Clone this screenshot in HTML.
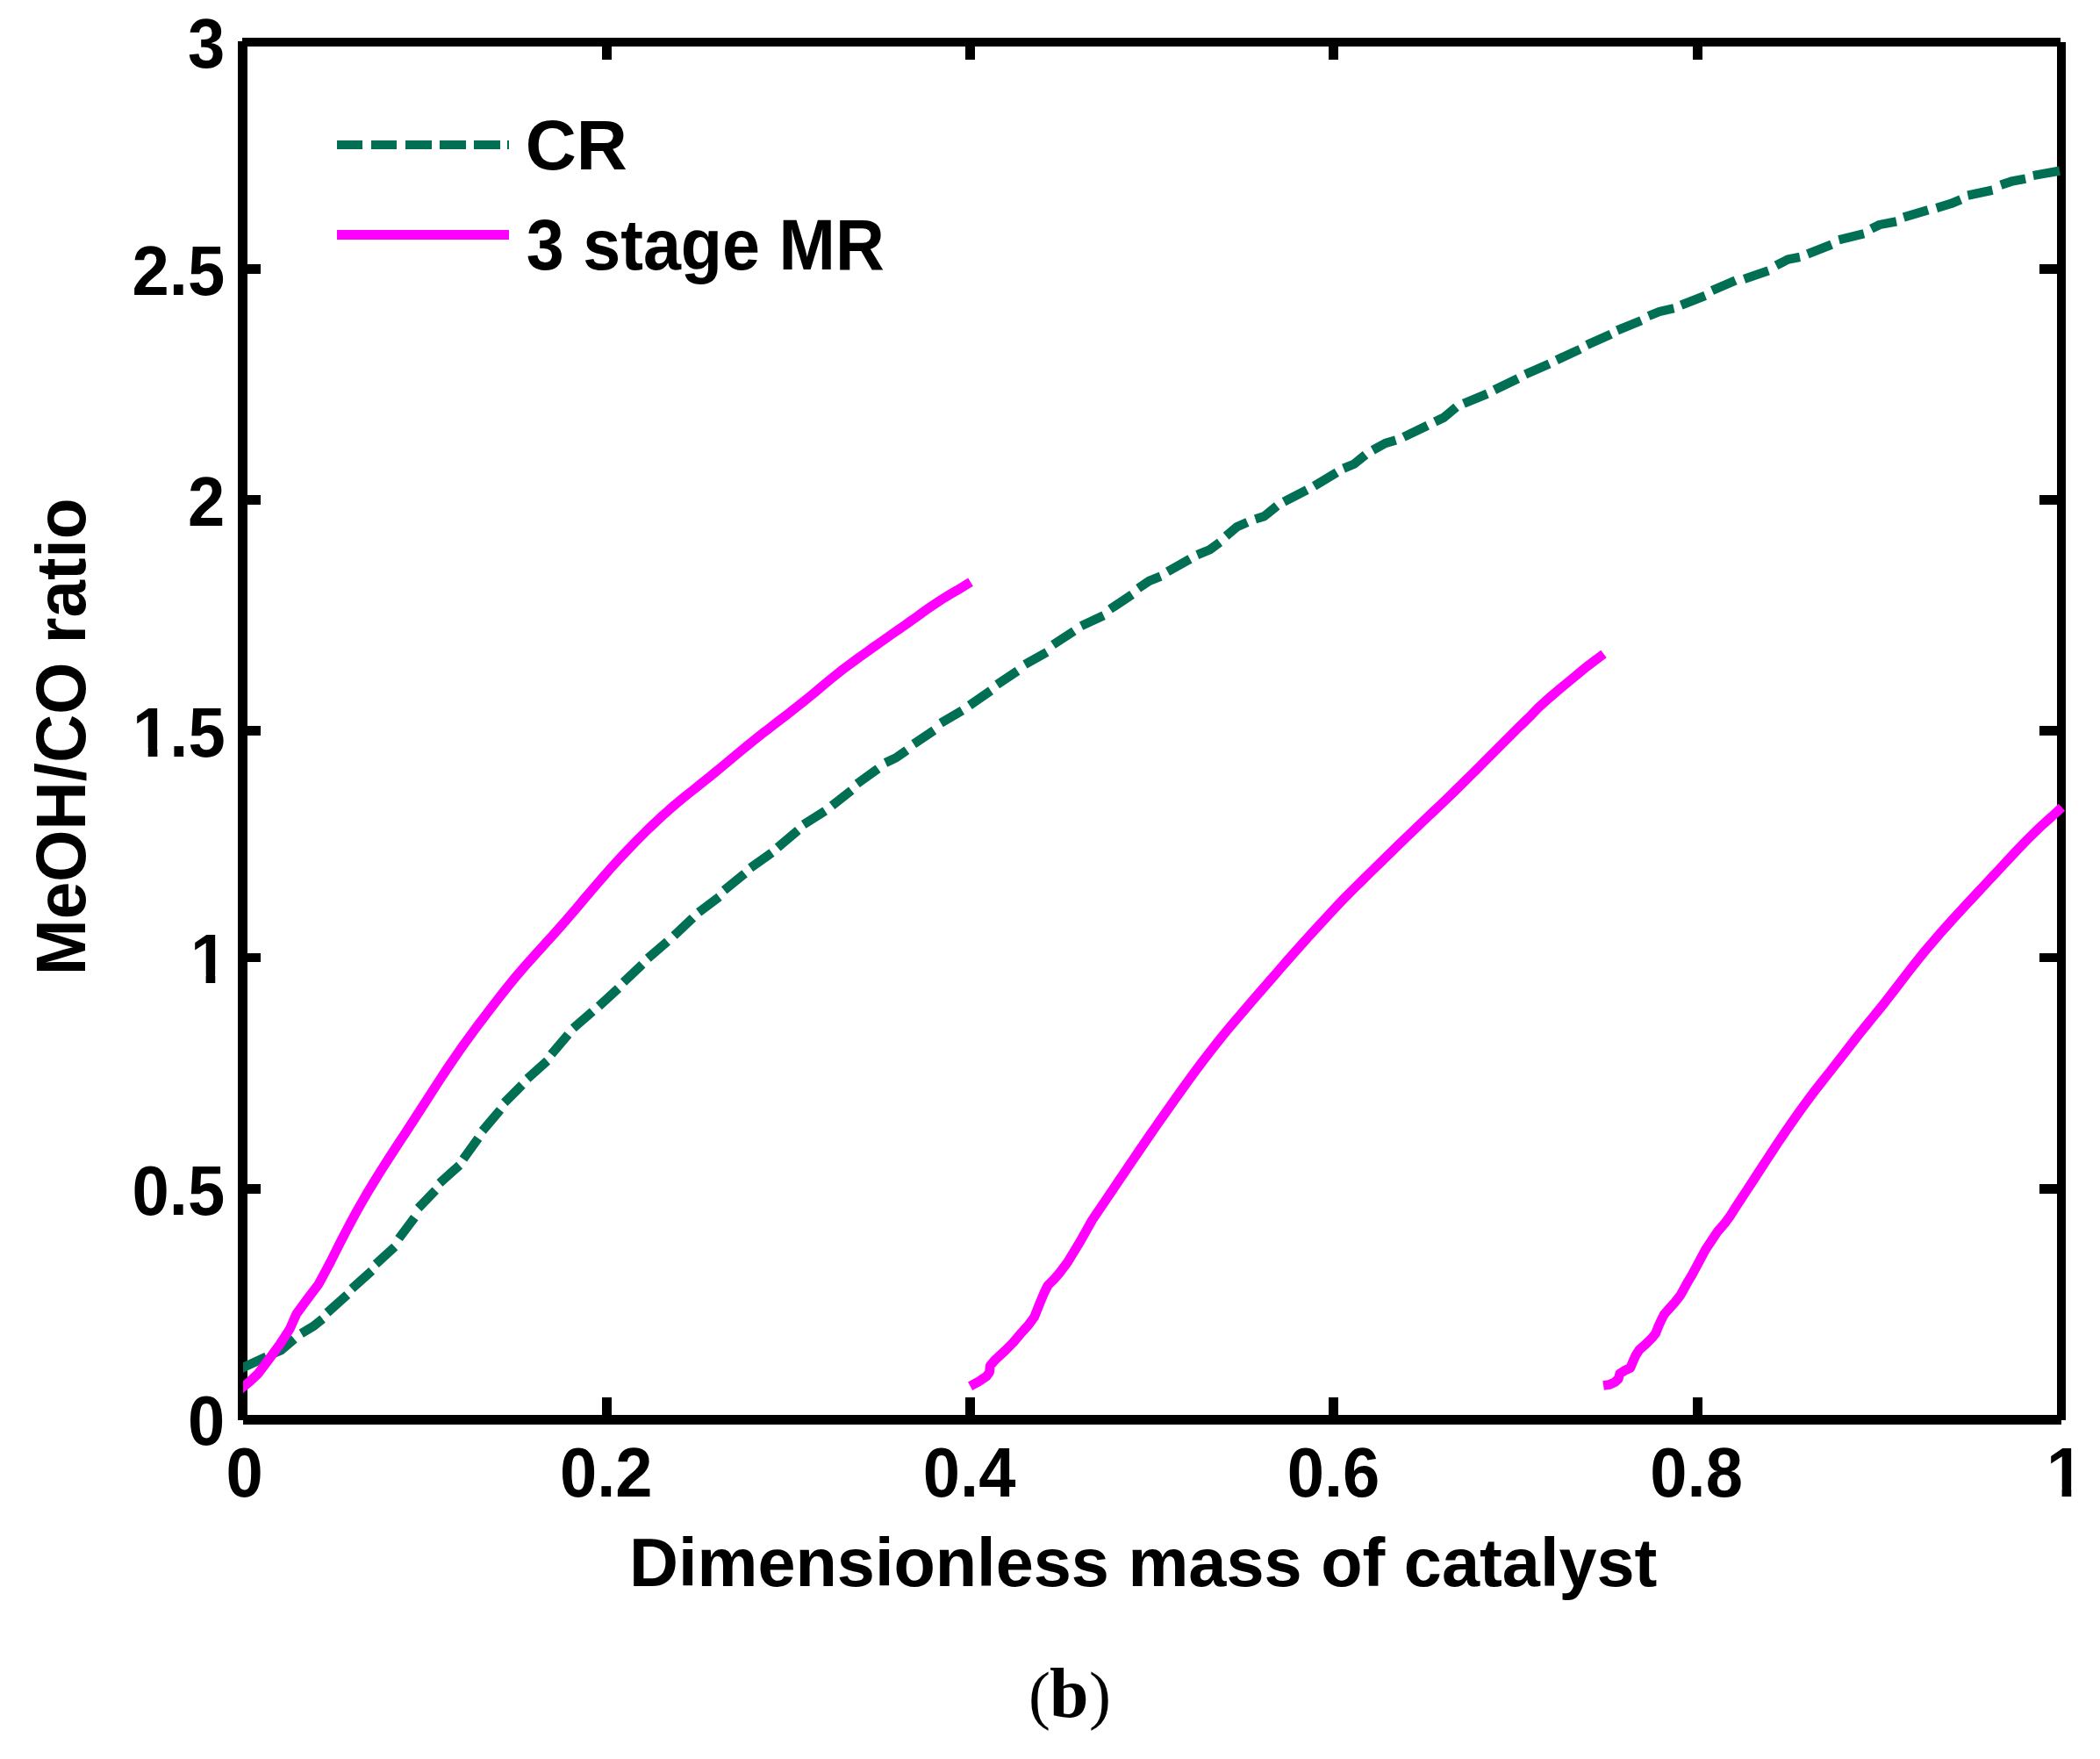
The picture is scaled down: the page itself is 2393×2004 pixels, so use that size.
<!DOCTYPE html>
<html lang="en"><head><meta charset="utf-8"><title>MeOH/CO ratio</title>
<style>html,body{margin:0;padding:0;background:#fff}body{width:2393px;height:2004px;overflow:hidden}svg{display:block}text{fill:#000;white-space:pre}</style></head><body>
<svg width="2393" height="2004" viewBox="0 0 2393 2004">
<rect x="0" y="0" width="2393" height="2004" fill="#fff"/>
<g fill="#000" shape-rendering="crispEdges">
<rect x="271" y="47" width="11" height="1571"/>
<rect x="276" y="43" width="2072" height="10"/>
<rect x="2344" y="48" width="10" height="1570"/>
<rect x="277" y="1612" width="2072" height="11"/>
<rect x="686" y="1592" width="11" height="21"/>
<rect x="686" y="52" width="11" height="16"/>
<rect x="1100" y="1592" width="11" height="21"/>
<rect x="1100" y="52" width="11" height="16"/>
<rect x="1514" y="1592" width="11" height="21"/>
<rect x="1514" y="52" width="11" height="16"/>
<rect x="1929" y="1592" width="11" height="21"/>
<rect x="1929" y="52" width="11" height="16"/>
<rect x="281" y="301" width="16" height="11"/>
<rect x="2324" y="301" width="21" height="11"/>
<rect x="281" y="564" width="16" height="11"/>
<rect x="2324" y="564" width="21" height="11"/>
<rect x="281" y="827" width="16" height="11"/>
<rect x="2324" y="827" width="21" height="11"/>
<rect x="281" y="1086" width="16" height="10"/>
<rect x="2324" y="1086" width="21" height="10"/>
<rect x="281" y="1349" width="16" height="11"/>
<rect x="2324" y="1349" width="21" height="11"/>
</g>
<clipPath id="pc"><rect x="277" y="0" width="2116" height="2004"/></clipPath>
<g fill="none" stroke-linejoin="round" stroke-linecap="butt" clip-path="url(#pc)">
<path stroke="#006F53" stroke-width="10.4" d="M270.0 1561.2 L277.0 1558.0 L290.0 1552.0 L303.5 1545.8 M311.5 1542.0 L320.0 1538.5 L335.4 1525.5 M343.3 1519.3 L356.6 1511.3 L367.6 1502.6 M372.9 1495.5 L395.7 1475.2 M401.0 1468.1 L423.6 1447.9 M428.3 1440.2 L449.8 1420.5 M454.5 1411.0 L472.4 1387.1 M476.7 1376.4 L496.2 1356.2 M501.0 1347.9 L523.6 1327.6 M527.9 1320.5 L545.0 1296.7 M549.8 1288.3 L570.0 1264.5 M574.8 1256.2 L595.0 1236.0 M601.0 1228.8 L623.6 1208.6 M628.3 1201.2 L647.4 1178.6 M653.3 1171.4 L675.2 1152.4 M682.4 1146.4 L704.5 1126.2 M710.5 1119.0 L731.9 1098.8 M738.3 1091.7 L760.5 1072.6 M768.1 1066.0 L789.5 1045.7 M796.2 1039.3 L819.5 1021.9 M825.2 1014.3 L848.6 995.2 M855.2 988.8 L879.5 971.4 M886.2 965.5 L909.3 946.0 M915.7 939.3 L940.2 923.8 M948.1 917.9 L970.2 900.5 M976.7 892.9 L1000.5 875.7 M1009.0 869.0 L1021.4 863.1 L1033.3 854.8 M1041.2 847.6 L1064.3 832.1 M1072.1 823.8 L1096.4 809.5 M1104.8 803.6 L1129.0 786.9 M1136.2 779.8 L1159.5 764.3 M1167.9 757.1 L1192.9 742.9 M1200.0 734.5 L1223.8 719.0 M1232.1 713.1 L1257.6 701.2 M1265.0 694.0 L1290.0 677.4 M1297.1 670.2 L1309.5 661.9 L1322.6 656.7 M1330.5 651.2 L1356.0 636.9 M1364.3 632.1 L1378.6 626.2 L1390.0 617.9 M1397.1 610.7 L1409.5 600.2 L1421.4 595.0 M1430.5 591.4 L1440.5 588.3 L1455.2 576.4 M1463.1 571.7 L1489.3 558.1 M1497.6 553.8 L1523.3 538.3 M1531.0 533.6 L1542.9 528.8 L1556.0 518.1 M1564.3 512.9 L1578.6 505.0 L1590.5 501.4 M1599.5 497.9 L1626.7 484.8 M1635.2 480.5 L1645.2 475.7 L1659.5 463.8 M1667.9 459.8 L1694.8 448.6 M1702.9 444.3 L1729.8 431.2 M1738.1 426.4 L1765.5 414.5 M1773.8 410.2 L1800.5 397.9 M1808.3 393.1 L1835.7 380.7 M1842.9 376.4 L1870.2 365.2 M1878.6 360.0 L1891.0 355.0 L1907.4 351.2 M1915.7 347.6 L1943.1 336.9 M1951.0 331.0 L1977.6 319.5 M1987.6 317.9 L2015.2 308.3 M2024.0 302.4 L2037.1 295.7 L2051.0 292.9 M2059.8 289.3 L2087.1 278.6 M2095.5 273.3 L2124.0 266.2 M2132.4 260.7 L2141.9 256.0 L2161.0 252.4 M2169.3 247.6 L2197.1 239.3 M2206.7 236.9 L2222.9 232.1 L2234.3 227.4 M2242.4 222.6 L2270.5 216.7 M2280.0 210.7 L2291.9 206.7 L2308.1 203.6 M2316.9 200.0 L2347.0 194.7"/>
<polyline stroke="#FF00FF" stroke-width="10.8" points="271.0,1585.2 277.1,1580.0 284.0,1574.5 293.9,1565.3 306.7,1548.2 319.2,1531.2 330.2,1514.1 337.8,1497.0 350.2,1480.0 362.9,1463.3 365.0,1459.4 371.0,1448.2 377.0,1436.9 383.0,1424.9 389.0,1413.0 395.0,1401.4 401.0,1390.1 407.0,1379.1 413.0,1368.6 419.0,1358.3 425.0,1348.4 431.0,1338.7 437.0,1329.1 443.0,1319.8 449.0,1310.5 455.0,1301.3 461.0,1292.2 467.0,1283.0 473.0,1273.8 479.0,1264.5 485.0,1255.2 491.0,1245.8 497.0,1236.6 503.0,1227.4 509.0,1218.3 515.0,1209.4 521.0,1200.7 527.0,1192.2 533.0,1183.8 539.0,1175.6 545.0,1167.6 551.0,1159.7 557.0,1151.8 563.0,1144.0 569.0,1136.3 575.0,1128.6 581.0,1121.1 587.0,1113.8 593.0,1106.7 599.0,1099.8 605.0,1093.1 611.0,1086.4 617.0,1079.8 623.0,1073.2 629.0,1066.6 635.0,1059.9 641.0,1053.2 647.0,1046.3 653.0,1039.3 659.0,1032.2 665.0,1025.0 671.0,1017.9 677.0,1010.9 683.0,1003.9 689.0,997.1 695.0,990.3 701.0,983.7 707.0,977.2 713.0,970.8 719.0,964.5 725.0,958.3 731.0,952.3 737.0,946.3 743.0,940.5 749.0,934.8 755.0,929.3 761.0,923.9 767.0,918.7 773.0,913.7 779.0,908.7 785.0,903.9 791.0,899.1 797.0,894.3 803.0,889.6 809.0,884.7 815.0,879.8 821.0,874.8 827.0,869.8 833.0,864.8 839.0,859.8 845.0,854.9 851.0,850.0 857.0,845.1 863.0,840.3 869.0,835.6 875.0,830.9 881.0,826.2 887.0,821.6 893.0,817.1 899.0,812.5 905.0,807.8 911.0,803.1 917.0,798.3 923.0,793.4 929.0,788.5 935.0,783.4 941.0,778.4 947.0,773.4 953.0,768.6 959.0,763.8 965.0,759.2 971.0,754.8 977.0,750.4 983.0,746.1 989.0,741.8 995.0,737.5 1001.0,733.3 1007.0,729.1 1013.0,724.9 1019.0,720.7 1025.0,716.5 1031.0,712.3 1037.0,708.0 1043.0,703.8 1049.0,699.5 1055.0,695.2 1061.0,691.0 1067.0,687.0 1073.0,683.0 1079.0,679.3 1085.0,675.7 1091.0,672.3 1106.0,663.1"/>
<polyline stroke="#FF00FF" stroke-width="10.8" points="1105.6,1579.2 1115.6,1573.8 1124.1,1568.1 1127.5,1563.4 1128.4,1555.7 1134.3,1548.9 1145.4,1538.7 1154.8,1529.3 1163.3,1519.1 1171.9,1509.7 1178.7,1500.3 1182.1,1491.8 1185.5,1483.3 1189.8,1473.0 1194.0,1464.5 1200.9,1457.7 1206.8,1450.9 1216.7,1437.7 1231.2,1413.9 1244.6,1390.0 1260.7,1366.2 1262.0,1364.3 1268.0,1355.4 1274.0,1346.5 1280.0,1337.7 1286.0,1328.8 1292.0,1319.9 1298.0,1311.1 1304.0,1302.4 1310.0,1293.6 1316.0,1285.0 1322.0,1276.4 1328.0,1267.9 1334.0,1259.4 1340.0,1250.9 1346.0,1242.5 1352.0,1234.2 1358.0,1225.9 1364.0,1217.8 1370.0,1209.8 1376.0,1201.9 1382.0,1194.2 1388.0,1186.6 1394.0,1179.2 1400.0,1171.9 1406.0,1164.7 1412.0,1157.7 1418.0,1150.7 1424.0,1143.8 1430.0,1136.8 1436.0,1129.9 1442.0,1123.0 1448.0,1116.1 1454.0,1109.2 1460.0,1102.3 1466.0,1095.4 1472.0,1088.6 1478.0,1081.9 1484.0,1075.2 1490.0,1068.5 1496.0,1061.9 1502.0,1055.3 1508.0,1048.8 1514.0,1042.3 1520.0,1035.8 1526.0,1029.5 1532.0,1023.3 1538.0,1017.2 1544.0,1011.2 1550.0,1005.3 1556.0,999.4 1562.0,993.5 1568.0,987.7 1574.0,981.8 1580.0,975.9 1586.0,970.1 1592.0,964.2 1598.0,958.4 1604.0,952.6 1610.0,946.9 1616.0,941.1 1622.0,935.4 1628.0,929.7 1634.0,924.0 1640.0,918.3 1646.0,912.6 1652.0,906.8 1658.0,901.0 1664.0,895.1 1670.0,889.2 1676.0,883.2 1682.0,877.3 1688.0,871.3 1694.0,865.3 1700.0,859.3 1706.0,853.3 1712.0,847.3 1718.0,841.3 1724.0,835.3 1730.0,829.3 1736.0,823.5 1742.0,817.7 1753.0,806.3 1765.5,795.0 1779.5,783.2 1793.5,771.6 1808.0,759.6 1827.5,745.0"/>
<polyline stroke="#FF00FF" stroke-width="10.8" points="1827.1,1578.5 1833.9,1577.5 1839.8,1574.9 1844.1,1571.1 1845.8,1565.1 1850.9,1561.7 1857.8,1558.3 1860.3,1552.3 1863.7,1544.7 1868.0,1537.8 1874.8,1531.9 1882.5,1524.2 1886.7,1519.1 1889.3,1512.3 1892.7,1504.6 1896.1,1497.8 1902.1,1490.9 1908.9,1483.3 1914.9,1475.6 1919.2,1467.9 1923.4,1460.2 1928.5,1451.7 1943.3,1424.0 1957.6,1402.6 1960.0,1399.9 1966.0,1392.9 1972.0,1384.7 1978.0,1375.2 1984.0,1366.0 1990.0,1356.9 1996.0,1347.7 2002.0,1338.5 2008.0,1329.3 2014.0,1320.1 2020.0,1311.0 2026.0,1301.9 2032.0,1293.0 2038.0,1284.2 2044.0,1275.6 2050.0,1267.1 2056.0,1258.8 2062.0,1250.7 2068.0,1242.8 2074.0,1235.1 2080.0,1227.5 2086.0,1220.0 2092.0,1212.3 2098.0,1204.7 2104.0,1196.9 2110.0,1189.1 2116.0,1181.4 2122.0,1173.9 2128.0,1166.5 2134.0,1159.1 2140.0,1151.8 2146.0,1144.3 2152.0,1136.7 2158.0,1128.9 2164.0,1121.1 2170.0,1113.3 2176.0,1105.5 2182.0,1097.9 2188.0,1090.3 2194.0,1083.0 2200.0,1075.9 2206.0,1068.9 2212.0,1062.0 2218.0,1055.3 2224.0,1048.6 2230.0,1042.1 2236.0,1035.6 2242.0,1029.1 2248.0,1022.7 2254.0,1016.3 2260.0,1009.9 2266.0,1003.4 2272.0,997.0 2278.0,990.6 2284.0,984.1 2290.0,977.7 2296.0,971.3 2302.0,965.0 2308.0,958.8 2314.0,952.8 2320.0,946.9 2326.0,941.2 2332.0,935.7 2338.0,930.4 2349.5,919.7"/>
</g>
<g shape-rendering="crispEdges">
<rect x="384.0" y="160" width="29.3" height="10" fill="#006F53"/>
<rect x="423.3" y="160" width="29.0" height="10" fill="#006F53"/>
<rect x="462.3" y="160" width="29.4" height="10" fill="#006F53"/>
<rect x="501.3" y="160" width="29.4" height="10" fill="#006F53"/>
<rect x="540.3" y="160" width="29.7" height="10" fill="#006F53"/>
<rect x="578.3" y="160" width="1.7" height="10" fill="#006F53"/>
<rect x="384" y="262" width="196" height="11" fill="#FF00FF"/>
</g>
<text  transform="translate(214.00 77.30) scale(1 1.045)" style="font-family:'Liberation Sans',Arial,Helvetica,sans-serif;font-weight:700;font-size:76px">3</text>
<text  transform="translate(150.60 335.50) scale(1 1.045)" style="font-family:'Liberation Sans',Arial,Helvetica,sans-serif;font-weight:700;font-size:76px">2.5</text>
<text  transform="translate(214.10 599.00) scale(1 1.045)" style="font-family:'Liberation Sans',Arial,Helvetica,sans-serif;font-weight:700;font-size:76px">2</text>
<text  transform="translate(151.10 862.00) scale(1 1.045)" style="font-family:'Liberation Sans',Arial,Helvetica,sans-serif;font-weight:700;font-size:76px">1.5</text>
<text  transform="translate(216.99 1120.00) scale(1 1.045)" style="font-family:'Liberation Sans',Arial,Helvetica,sans-serif;font-weight:700;font-size:76px">1</text>
<text  transform="translate(150.60 1383.50) scale(1 1.045)" style="font-family:'Liberation Sans',Arial,Helvetica,sans-serif;font-weight:700;font-size:76px">0.5</text>
<text  transform="translate(214.00 1646.00) scale(1 1.045)" style="font-family:'Liberation Sans',Arial,Helvetica,sans-serif;font-weight:700;font-size:76px">0</text>
<text  transform="translate(257.50 1705.00) scale(1 1.045)" style="font-family:'Liberation Sans',Arial,Helvetica,sans-serif;font-weight:700;font-size:76px">0</text>
<text  transform="translate(638.00 1705.00) scale(1 1.045)" style="font-family:'Liberation Sans',Arial,Helvetica,sans-serif;font-weight:700;font-size:76px">0.2</text>
<text  transform="translate(1051.80 1705.00) scale(1 1.045)" style="font-family:'Liberation Sans',Arial,Helvetica,sans-serif;font-weight:700;font-size:76px">0.4</text>
<text  transform="translate(1466.70 1705.00) scale(1 1.045)" style="font-family:'Liberation Sans',Arial,Helvetica,sans-serif;font-weight:700;font-size:76px">0.6</text>
<text  transform="translate(1880.30 1705.00) scale(1 1.045)" style="font-family:'Liberation Sans',Arial,Helvetica,sans-serif;font-weight:700;font-size:76px">0.8</text>
<text  transform="translate(2331.99 1705.00) scale(1 1.045)" style="font-family:'Liberation Sans',Arial,Helvetica,sans-serif;font-weight:700;font-size:76px">1</text>
<text  transform="translate(717.00 1807.00) scale(1 1.012)" style="font-family:'Liberation Sans',Arial,Helvetica,sans-serif;font-weight:700;font-size:77.5px">Dimensionless mass of catalyst</text>
<text  transform="translate(96.70 1111.00) rotate(-90) scale(1 1.05)" style="font-family:'Liberation Sans',Arial,Helvetica,sans-serif;font-weight:700;font-size:76.4px">MeOH/CO ratio</text>
<text  transform="translate(598.70 192.90)" style="font-family:'Liberation Sans',Arial,Helvetica,sans-serif;font-weight:700;font-size:80.4px">CR</text>
<text  transform="translate(599.70 306.70) scale(1 1.06)" style="font-family:'Liberation Sans',Arial,Helvetica,sans-serif;font-weight:700;font-size:77.3px">3 stage MR</text>
<text><tspan x="1172.00" y="1955.50" style="font-family:'Liberation Serif','Times New Roman',serif;font-weight:400;font-size:75px">(</tspan><tspan x="1196.00" y="1956.00" style="font-family:'Liberation Serif','Times New Roman',serif;font-weight:700;font-size:80px">b</tspan><tspan x="1241.00" y="1955.50" style="font-family:'Liberation Serif','Times New Roman',serif;font-weight:400;font-size:75px">)</tspan></text>
<g fill="#fff"><rect x="153.89" y="852.40" width="14.85" height="11.60"/><rect x="179.37" y="852.40" width="13.99" height="11.60"/><rect x="219.77" y="1110.40" width="14.85" height="11.60"/><rect x="245.25" y="1110.40" width="13.99" height="11.60"/><rect x="2334.77" y="1695.40" width="14.85" height="11.60"/><rect x="2360.25" y="1695.40" width="13.99" height="11.60"/></g>
</svg></body></html>
